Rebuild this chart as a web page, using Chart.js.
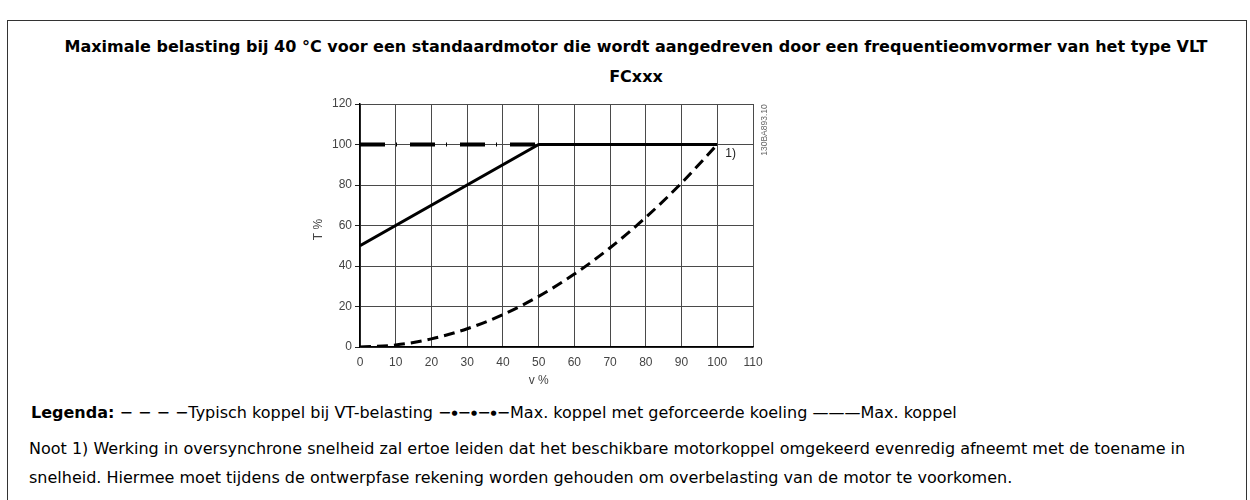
<!DOCTYPE html>
<html>
<head>
<meta charset="utf-8">
<script src="https://cdn.jsdelivr.net/npm/chart.js@4"></script>
<style>
  html, body { margin: 0; padding: 0; background: #fff; }
  body { width: 1250px; height: 500px; position: relative; overflow: hidden;
         font-family: "DejaVu Sans", Verdana, sans-serif; color: #000; }
  #frame { position: absolute; left: 7px; top: 20px; width: 1240px; height: 520px;
           border: 1.5px solid #333; box-sizing: border-box; }
  #title { position: absolute; left: 0; top: 32px; width: 1272px; text-align: center;
           font-weight: bold; font-size: 16px; line-height: 30px; white-space: nowrap; }
  #chart-wrap { position: absolute; left: 300px; top: 75px; width: 480px; height: 320px; }
  #legend { position: absolute; left: 31px; top: 403px; font-size: 16px; line-height: 20px; white-space: nowrap; }
  #legend b { font-weight: bold; }
  #legend .dot { font-size: 7px; vertical-align: 3px; }
  #note { position: absolute; left: 29px; top: 434px; font-size: 16px; line-height: 29px; white-space: nowrap; }
</style>
</head>
<body>
<div id="frame"></div>
<div id="title">Maximale belasting bij 40 °C voor een standaardmotor die wordt aangedreven door een frequentieomvormer van het type VLT<br>FCxxx</div>
<div id="chart-wrap"><canvas id="chart" width="480" height="320"></canvas></div>
<div id="legend"><b>Legenda:</b> &minus; &minus; &minus; &minus;Typisch koppel bij VT-belasting &minus;<span class="dot">&#9679;</span>&minus;<span class="dot">&#9679;</span>&minus;<span class="dot">&#9679;</span>&minus;Max. koppel met geforceerde koeling &mdash;&mdash;&mdash;Max. koppel</div>
<div id="note">Noot 1) Werking in oversynchrone snelheid zal ertoe leiden dat het beschikbare motorkoppel omgekeerd evenredig afneemt met de toename in<br>snelheid. Hiermee moet tijdens de ontwerpfase rekening worden gehouden om overbelasting van de motor te voorkomen.</div>

<script>
// speed (v %) vs torque (T %)
const speedSteps   = [0, 10, 20, 30, 40, 50, 60, 70, 80, 90, 100];
const vtTorque     = [0, 1, 4, 9, 16, 25, 36, 49, 64, 81, 100];
const maxSpeed     = [0, 50, 100];
const maxTorque    = [50, 100, 100];
const forcedSpeed  = [0, 50];
const forcedTorque = [100, 100];
const xTicks = [0, 10, 20, 30, 40, 50, 60, 70, 80, 90, 100, 110];
const yTicks = [0, 20, 40, 60, 80, 100, 120];

const pts = (xs, ys) => xs.map((x, i) => ({ x, y: ys[i] }));

const TICK_FONT = { family: "'Liberation Sans', Arial, sans-serif", size: 12 };

// axis titles, footnote marker and drawing number
const annotations = {
  id: "annotations",
  afterDraw(chart) {
    const { ctx, scales: { x, y }, chartArea } = chart;
    ctx.save();
    ctx.fillStyle = "#444";
    ctx.font = "12px 'Liberation Sans', Arial, sans-serif";
    ctx.textAlign = "center";
    ctx.textBaseline = "middle";
    ctx.fillText("v %", x.getPixelForValue(50), chartArea.bottom + 34);

    ctx.save();
    ctx.translate(18.5, y.getPixelForValue(58));
    ctx.rotate(-Math.PI / 2);
    ctx.fillText("T %", 0, 0);
    ctx.restore();

    ctx.fillStyle = "#222";
    ctx.textAlign = "left";
    ctx.fillText("1)", x.getPixelForValue(100) + 8, y.getPixelForValue(100) + 9);

    ctx.fillStyle = "#666";
    ctx.font = "8.5px 'Liberation Sans', Arial, sans-serif";
    ctx.textAlign = "center";
    ctx.translate(chartArea.right + 12, chartArea.top + 26);
    ctx.rotate(-Math.PI / 2);
    ctx.fillText("130BA893.10", 0, 0);
    ctx.restore();
  },
};

new Chart(document.getElementById("chart"), {
  type: "line",
  data: {
    datasets: [
      {
        label: "Typisch koppel bij VT-belasting",
        data: pts(speedSteps, vtTorque),
        borderColor: "#000",
        borderWidth: 3,
        borderDash: [11, 6],
        cubicInterpolationMode: "monotone",
        pointRadius: 0,
      },
      {
        label: "Max. koppel met geforceerde koeling",
        data: pts(forcedSpeed, forcedTorque),
        borderColor: "#000",
        borderWidth: 4,
        borderDash: [25, 11, 1, 13],
        borderCapStyle: "butt",
        pointRadius: 0,
      },
      {
        label: "Max. koppel",
        data: pts(maxSpeed, maxTorque),
        borderColor: "#000",
        borderWidth: 3,
        pointRadius: 0,
      },
    ],
  },
  options: {
    responsive: false,
    animation: false,
    layout: { padding: { top: 29, right: 27, bottom: 0, left: 0 } },
    plugins: { legend: { display: false }, tooltip: { enabled: false }, title: { display: false } },
    scales: {
      x: {
        type: "linear",
        min: 0, max: 110,
        afterBuildTicks: (s) => { s.ticks = xTicks.map((v) => ({ value: v })); },
        afterFit: (s) => { s.height = 48; },
        ticks: { color: "#444", font: TICK_FONT, padding: 8, maxRotation: 0 },
        grid: { color: "#4a4a4a", lineWidth: 1, drawTicks: false },
        border: { color: "#000", width: 1.5 },
      },
      y: {
        min: 0, max: 120,
        afterBuildTicks: (s) => { s.ticks = yTicks.map((v) => ({ value: v })); },
        afterFit: (s) => { s.width = 60; },
        ticks: { color: "#444", font: TICK_FONT, padding: 3 },
        grid: { color: "#4a4a4a", lineWidth: 1, tickLength: 5, tickColor: "#222" },
        border: { color: "#000", width: 1.5 },
      },
    },
  },
  plugins: [annotations],
});
</script>
</body>
</html>
